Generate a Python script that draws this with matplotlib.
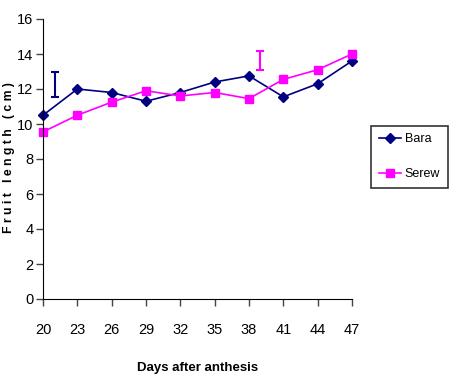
import matplotlib
matplotlib.use("Agg")
import matplotlib.pyplot as plt

days = [20, 23, 26, 29, 32, 35, 38, 41, 44, 47]
bara = [10.5, 12.0, 11.8, 11.3, 11.8, 12.4, 12.75, 11.55, 12.3, 13.6]
serew = [9.55, 10.5, 11.25, 11.9, 11.6, 11.8, 11.45, 12.55, 13.1, 14.0]
# LSD bars: (x position in category index, low, high)
bara_bar = (0.35, 11.55, 12.95)
serew_bar = (6.33, 13.1, 14.15)

plt.rcParams['font.family'] = ['Liberation Sans', 'DejaVu Sans']

fig = plt.figure(figsize=(4.54, 3.76), dpi=100)
ax = fig.add_axes([43/454, 1-299/376, (352-43)/454, (299-19)/376])

x = list(range(len(days)))
ax.plot(x, bara, color='#000080', marker='D', markersize=5.5, lw=1.2, label='Bara', clip_on=False)
ax.plot(x, serew, color='#FF00FF', marker='s', markersize=5.5, lw=1.2, label='Serew', clip_on=False)

for (xp, lo, hi), c in [(bara_bar, '#000080'), (serew_bar, '#FF00FF')]:
    ax.errorbar([xp], [(lo+hi)/2], yerr=[[(hi-lo)/2], [(hi-lo)/2]], fmt='none',
                ecolor=c, elinewidth=1.5, capsize=3, capthick=1.5)

ax.set_xlim(0, 9)
ax.set_ylim(0, 16)
ax.set_yticks(range(0, 17, 2))
ax.set_xticks(x)
ax.set_xticklabels([str(d) for d in days])
ax.spines['top'].set_visible(False)
ax.spines['right'].set_visible(False)
ax.tick_params(axis='both', labelsize=10.5, length=5, color='#444444', width=1)
ax.tick_params(axis='x', pad=12)
ax.tick_params(axis='y', pad=2)

ax.set_xlabel('Days after anthesis', fontsize=9.5, fontweight='bold', labelpad=18)
fig.text(9/454, 1-158/376, 'F r u i t   l e n g t h   ( c m )', rotation=90, ha='center', va='center',
         fontsize=8.8, fontweight='bold')

leg = ax.legend(loc='upper left', bbox_to_anchor=(371/454, 1-126/376), bbox_transform=fig.transFigure,
                frameon=True, fancybox=False, edgecolor='black', fontsize=9,
                handlelength=1.8, borderpad=0.6, labelspacing=1.8, handletextpad=0.3,
                borderaxespad=0)
leg.get_frame().set_linewidth(1.2)

fig.savefig('out.png', dpi=100)
